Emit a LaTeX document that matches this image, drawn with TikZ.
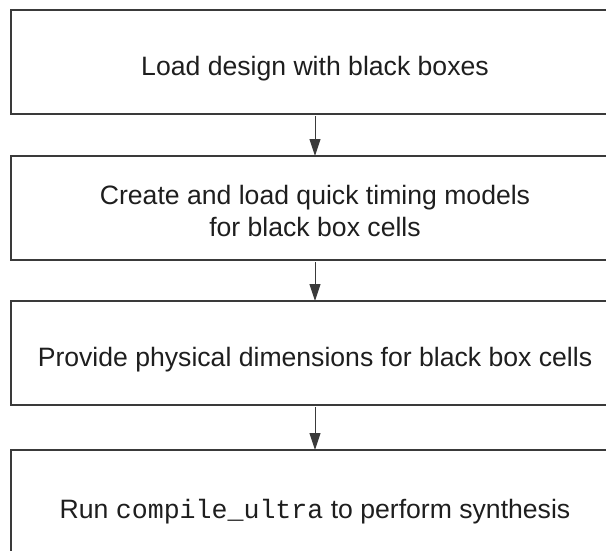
\documentclass[tikz,border=0pt]{standalone}
\usepackage{fontspec}
\setmainfont{Liberation Sans}
\setmonofont{Liberation Mono}
\usetikzlibrary{arrows.meta}
\definecolor{linec}{HTML}{3A3A3A}
\definecolor{textc}{HTML}{1E1E1E}
\begin{document}
\begin{tikzpicture}[x=1pt,y=-1pt,
  stepbox/.style={draw=linec, line width=1.3pt, minimum width=608pt, inner sep=0pt, outer sep=0pt},
  label/.style={text=textc, inner sep=0pt, font=\fontsize{26.6}{32}\selectfont, align=center},
  arr/.style={draw=linec, line width=1pt, -{Triangle[length=17pt,width=11pt]}, shorten <=2pt}]
\useasboundingbox (0,0) rectangle (606,550);
\clip (0,0) rectangle (606,550);
\node[stepbox, minimum height=104pt] (b1) at (315,62) {};
\node[stepbox, minimum height=104pt] (b2) at (315,208) {};
\node[stepbox, minimum height=104pt] (b3) at (315,353) {};
\node[stepbox, minimum height=130pt] (b4) at (315,515) {};
\node[label, anchor=base] (t1) at (315,75) {Load design with black boxes};
\node[label, anchor=center] (t2) at (315,210.5) {Create and load quick timing models\\for black box cells};
\node[label, anchor=base] (t3) at (315,366) {Provide physical dimensions for black box cells};
\node[label, anchor=base] (t4) at (315,518) {Run {\ttfamily compile\_ultra} to perform synthesis};
\draw[arr] (b1.south) -- (b2.north);
\draw[arr] (b2.south) -- (b3.north);
\draw[arr] (b3.south) -- (b4.north);
\end{tikzpicture}
\end{document}
